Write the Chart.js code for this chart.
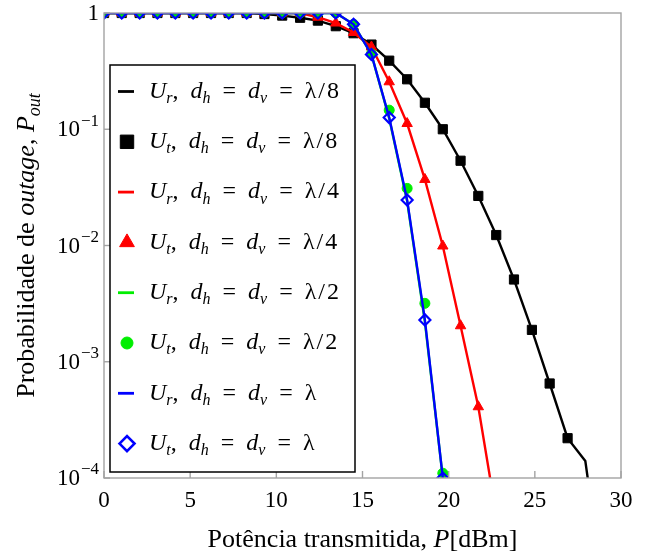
<!DOCTYPE html>
<html>
<head>
<meta charset="utf-8">
<script src="https://cdn.jsdelivr.net/npm/chart.js@4.4.0/dist/chart.umd.min.js"></script>
<style>
body{margin:0;background:#fff;}
#caixa{position:relative;width:648px;height:554px;}
</style>
</head>
<body>
<div id="caixa"><canvas id="grafico"></canvas></div>
<script>
// potencia transmitida (dBm) de cada ponto
var potencia = [0, 1.03, 2.07, 3.10, 4.14, 5.17, 6.21, 7.24, 8.28, 9.31, 10.34, 11.38, 12.41, 13.45, 14.48,
  15.52, 16.55, 17.59, 18.62, 19.66, 20.69, 21.72, 22.76, 23.79, 24.83, 25.86, 26.90, 27.93, 28.97];

// probabilidade de outage
var urL8 = [1, 1, 1, 1, 1, 1, 1, 1, 1, 0.98, 0.95, 0.91, 0.86, 0.77, 0.67, 0.535, 0.389, 0.269, 0.169, 0.1,
  0.0536, 0.0267, 0.0123, 0.0051, 0.00188, 0.00065, 0.00022, 0.00014, 0.000011];
var utL8 = [1, 1, 1, 1, 1, 1, 1, 1, 1, 0.98, 0.95, 0.91, 0.86, 0.77, 0.67, 0.535, 0.389, 0.269, 0.169, 0.1,
  0.0536, 0.0267, 0.0123, 0.0051, 0.00188, 0.00065, 0.00022, null, null];
var urL4 = [1, 1, 1, 1, 1, 1, 1, 1, 1, 1, 1, 1, 0.92, 0.82, 0.68, 0.51, 0.256, 0.112, 0.037, 0.0099,
  0.00204, 0.00041, 0.000048, null, null, null, null, null, null];
var utL4 = [1, 1, 1, 1, 1, 1, 1, 1, 1, 1, 1, 1, 0.92, 0.82, 0.68, 0.51, 0.256, 0.112, 0.037, 0.0099,
  0.00204, 0.00041, null, null, null, null, null, null, null];
var urL2 = [1, 1, 1, 1, 1, 1, 1, 1, 1, 1, 1, 1, 1, 1, 0.80, 0.44, 0.124, 0.024, 0.0022, 0.0001,
  null, null, null, null, null, null, null, null, null];
var utL2 = [1, 1, 1, 1, 1, 1, 1, 1, 1, 1, 1, 1, 1, 1, 0.80, 0.445, 0.146, 0.031, 0.00318, 0.00011,
  null, null, null, null, null, null, null, null, null];
var urL1 = [1, 1, 1, 1, 1, 1, 1, 1, 1, 1, 1, 1, 1, 1, 0.80, 0.44, 0.126, 0.0246, 0.00229, 0.0001,
  null, null, null, null, null, null, null, null, null];
var utL1 = [1, 1, 1, 1, 1, 1, 1, 1, 1, 1, 1, 1, 1, 1, 0.80, 0.44, 0.126, 0.0246, 0.00229, 0.0001,
  null, null, null, null, null, null, null, null, null];

var ticksX = [0, 5, 10, 15, 20, 25, 30];
var ticksY = [1, 1e-1, 1e-2, 1e-3, 1e-4];
var rotulosY = [['1', ''], ['10', '\u22121'], ['10', '\u22122'], ['10', '\u22123'], ['10', '\u22124']];

var FONTE = '"Liberation Serif", "Times New Roman", serif';
var CINZA = '#a3a3a3';

function pontos(vals) {
  var r = [];
  for (var i = 0; i < vals.length; i++) {
    if (vals[i] !== null) r.push({x: potencia[i], y: vals[i]});
  }
  return r;
}

function fonte(est, tam) {
  var it = est.indexOf('i') >= 0 ? 'italic ' : '';
  var t = est.indexOf('s') >= 0 ? Math.round(tam * 0.68) : tam;
  return it + t + 'px ' + FONTE;
}

// escreve texto com partes em italico / subscrito
function textoRico(ctx, partes, x, y, tam, alinhar) {
  var total = 0, larg = [];
  partes.forEach(function(p) {
    ctx.font = fonte(p[1], tam);
    var w = ctx.measureText(p[0]).width;
    larg.push(w);
    total += w;
  });
  var px = alinhar === 'center' ? x - total / 2 : x;
  ctx.textAlign = 'left';
  ctx.textBaseline = 'middle';
  partes.forEach(function(p, i) {
    ctx.font = fonte(p[1], tam);
    var dy = p[1].indexOf('s') >= 0 ? tam * 0.3 : 0;
    ctx.fillText(p[0], px, y + dy);
    px += larg[i];
  });
  return total;
}

function nomeLegenda(sub, lam) {
  var fim = lam ? '\u03bb\u200a/\u200a' + lam : '\u03bb';
  return [['U', 'i'], [sub, 'is'], [',\u2002', ''], ['d', 'i'], ['h', 'is'], ['\u2002=\u2002', ''],
    ['d', 'i'], ['v', 'is'], ['\u2002=\u2002', ''], [fim, '']];
}

var series = [
  {label: 'Ur, dh = dv = \u03bb/8', data: pontos(urL8), cor: '#000000', tipo: 'linha', sub: 'r', lam: '8'},
  {label: 'Ut, dh = dv = \u03bb/8', data: pontos(utL8), cor: '#000000', tipo: 'rect', sub: 't', lam: '8'},
  {label: 'Ur, dh = dv = \u03bb/4', data: pontos(urL4), cor: '#ff0000', tipo: 'linha', sub: 'r', lam: '4'},
  {label: 'Ut, dh = dv = \u03bb/4', data: pontos(utL4), cor: '#ff0000', tipo: 'triangle', sub: 't', lam: '4'},
  {label: 'Ur, dh = dv = \u03bb/2', data: pontos(urL2), cor: '#00ee00', tipo: 'linha', sub: 'r', lam: '2'},
  {label: 'Ut, dh = dv = \u03bb/2', data: pontos(utL2), cor: '#00ee00', tipo: 'circle', sub: 't', lam: '2'},
  {label: 'Ur, dh = dv = \u03bb', data: pontos(urL1), cor: '#0000ff', tipo: 'linha', sub: 'r', lam: ''},
  {label: 'Ut, dh = dv = \u03bb', data: pontos(utL1), cor: '#0000ff', tipo: 'rectRot', sub: 't', lam: ''}
];

var raioPlot = {rect: 6.5, triangle: 6, circle: 5, rectRot: 5.5};
var raioLeg = {rect: 9.5, triangle: 8.5, circle: 6, rectRot: 7.5};

var datasets = series.map(function(s, i) {
  var linha = s.tipo === 'linha';
  return {
    label: s.label,
    data: s.data,
    order: series.length - i,
    showLine: linha,
    borderColor: s.cor,
    borderWidth: linha ? 2.4 : 0,
    backgroundColor: s.tipo === 'rectRot' ? 'rgba(0,0,0,0)' : s.cor,
    pointStyle: linha ? 'circle' : s.tipo,
    pointRadius: linha ? 0 : raioPlot[s.tipo],
    pointBorderWidth: s.tipo === 'rectRot' ? 2.2 : 1,
    pointBorderColor: s.cor,
    pointBackgroundColor: s.tipo === 'rectRot' ? 'rgba(0,0,0,0)' : s.cor,
    tension: 0
  };
});

var desenhos = {
  id: 'desenhos',
  afterDraw: function(chart) {
    var ctx = chart.ctx, a = chart.chartArea;
    var sx = chart.scales.x, sy = chart.scales.y;
    ctx.save();
    // moldura e marcas
    ctx.strokeStyle = CINZA;
    ctx.lineWidth = 1.4;
    ctx.strokeRect(a.left, a.top, a.right - a.left, a.bottom - a.top);
    ticksX.forEach(function(v) {
      var px = sx.getPixelForValue(v);
      ctx.beginPath(); ctx.moveTo(px, a.bottom); ctx.lineTo(px, a.bottom - 7); ctx.stroke();
    });
    ticksY.forEach(function(v) {
      var py = sy.getPixelForValue(v);
      ctx.beginPath(); ctx.moveTo(a.left, py); ctx.lineTo(a.left + 6, py); ctx.stroke();
    });
    // rotulos do eixo y
    ctx.fillStyle = '#000';
    ticksY.forEach(function(v, i) {
      var py = sy.getPixelForValue(v) + 1;
      var base = rotulosY[i][0], exp = rotulosY[i][1];
      ctx.textBaseline = 'middle';
      ctx.textAlign = 'right';
      var dir = a.left - 5;
      if (exp) {
        ctx.font = '17px ' + FONTE;
        ctx.fillText(exp, dir, py - 9);
        dir -= ctx.measureText(exp).width + 1;
      }
      ctx.font = '23px ' + FONTE;
      ctx.fillText(base, dir, py);
    });
    // titulos dos eixos
    textoRico(ctx, [['Pot\u00eancia transmitida, ', ''], ['P', 'i'], ['[dBm]', '']],
      (a.left + a.right) / 2, 540, 26, 'center');
    ctx.save();
    ctx.translate(27, (a.top + a.bottom) / 2);
    ctx.rotate(-Math.PI / 2);
    textoRico(ctx, [['Probabilidade de ', ''], ['outage', 'i'], [', ', ''], ['P', 'i'], ['out', 'is']],
      0, 0, 26, 'center');
    ctx.restore();
    // legenda
    ctx.fillStyle = '#fff';
    ctx.fillRect(110, 65, 245, 407);
    ctx.strokeStyle = '#000';
    ctx.lineWidth = 1.5;
    ctx.strokeRect(110, 65, 245, 407);
    series.forEach(function(s, i) {
      var cy = 91.5 + i * 50.3;
      if (s.tipo === 'linha') {
        ctx.strokeStyle = s.cor;
        ctx.lineWidth = 2.8;
        ctx.beginPath(); ctx.moveTo(118, cy); ctx.lineTo(134, cy); ctx.stroke();
      } else {
        ctx.strokeStyle = s.cor;
        ctx.fillStyle = s.tipo === 'rectRot' ? 'rgba(0,0,0,0)' : s.cor;
        ctx.lineWidth = s.tipo === 'rectRot' ? 2.6 : 1;
        Chart.helpers.drawPoint(ctx, {pointStyle: s.tipo, radius: raioLeg[s.tipo], rotation: 0,
          borderWidth: ctx.lineWidth}, 127, cy);
      }
      ctx.fillStyle = '#000';
      textoRico(ctx, nomeLegenda(s.sub, s.lam), 149, cy, 24, 'left');
    });
    ctx.restore();
  }
};

var config = {
  type: 'line',
  data: {datasets: datasets},
  options: {
    responsive: true,
    maintainAspectRatio: false,
    animation: false,
    layout: {padding: {top: 13, right: 27, left: 0, bottom: 0}},
    plugins: {legend: {display: false}, tooltip: {enabled: false}},
    scales: {
      x: {
        type: 'linear', min: 0, max: 30,
        grid: {display: false, drawTicks: false},
        border: {display: false},
        afterBuildTicks: function(s) { s.ticks = ticksX.map(function(v) { return {value: v}; }); },
        afterFit: function(s) { s.height = 76; },
        ticks: {color: '#000', padding: 9, maxRotation: 0, font: {family: FONTE, size: 23}}
      },
      y: {
        type: 'logarithmic', min: 1e-4, max: 1,
        grid: {display: false, drawTicks: false},
        border: {display: false},
        afterBuildTicks: function(s) { s.ticks = ticksY.map(function(v) { return {value: v}; }); },
        afterFit: function(s) { s.width = 104; },
        ticks: {display: false}
      }
    }
  },
  plugins: [desenhos]
};

var grafico = new Chart(document.getElementById('grafico').getContext('2d'), config);
</script>
</body>
</html>
